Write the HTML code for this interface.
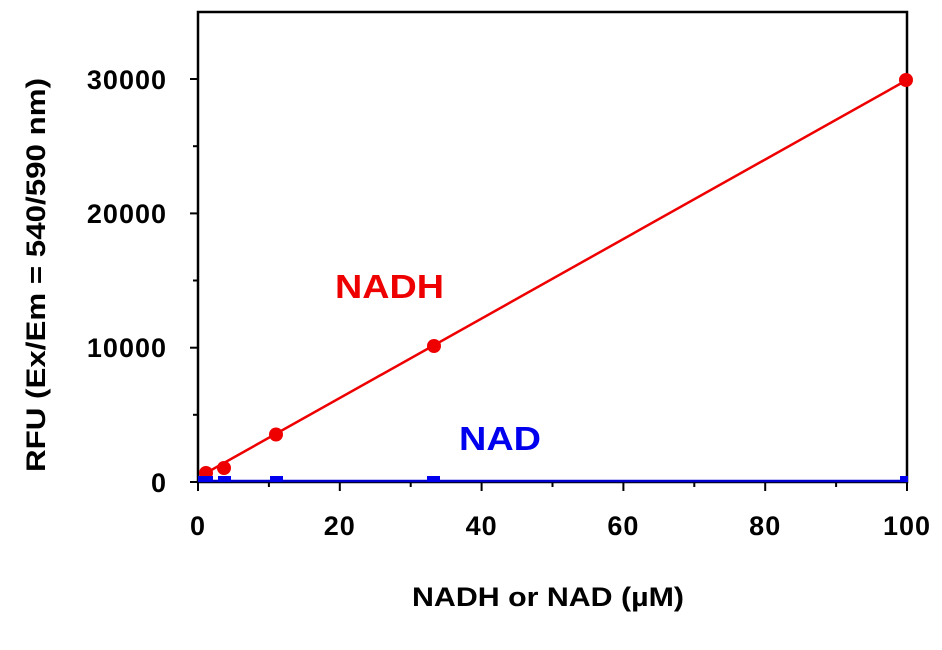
<!DOCTYPE html>
<html><head><style>body{margin:0;background:#fff}</style></head><body>
<svg width="942" height="645" xmlns="http://www.w3.org/2000/svg" font-family="Liberation Sans, sans-serif" font-weight="bold">
<rect x="0" y="0" width="942" height="645" fill="#fff"/>
<g stroke="#000" stroke-width="2.5" fill="none">
<rect x="198" y="12" width="709" height="470"/>
</g>
<g stroke="#000" stroke-width="2">
<line x1="190" y1="482" x2="198" y2="482"/><line x1="190" y1="347.7" x2="198" y2="347.7"/><line x1="190" y1="213.4" x2="198" y2="213.4"/><line x1="190" y1="79" x2="198" y2="79"/>
<line x1="193" y1="414.8" x2="198" y2="414.8"/><line x1="193" y1="280.5" x2="198" y2="280.5"/><line x1="193" y1="146.2" x2="198" y2="146.2"/>
<line x1="198" y1="482" x2="198" y2="491"/><line x1="339.8" y1="482" x2="339.8" y2="491"/><line x1="481.6" y1="482" x2="481.6" y2="491"/><line x1="623.4" y1="482" x2="623.4" y2="491"/><line x1="765.2" y1="482" x2="765.2" y2="491"/><line x1="907" y1="482" x2="907" y2="491"/>
<line x1="268.9" y1="482" x2="268.9" y2="487"/><line x1="410.7" y1="482" x2="410.7" y2="487"/><line x1="552.5" y1="482" x2="552.5" y2="487"/><line x1="694.3" y1="482" x2="694.3" y2="487"/><line x1="836.1" y1="482" x2="836.1" y2="487"/>
</g>
<g font-size="27" text-anchor="end" fill="#000" letter-spacing="1">
<text x="167" y="492">0</text><text x="167" y="357">10000</text><text x="167" y="223">20000</text><text x="167" y="89">30000</text>
</g>
<g font-size="27" text-anchor="middle" fill="#000">
<text x="198" y="535" letter-spacing="1">0</text><text x="339.8" y="535" letter-spacing="1">20</text><text x="481.6" y="535" letter-spacing="1">40</text><text x="623.4" y="535" letter-spacing="1">60</text><text x="765.2" y="535" letter-spacing="1">80</text><text x="907" y="535" letter-spacing="1">100</text>
<text x="548" y="606" textLength="272" lengthAdjust="spacingAndGlyphs">NADH or NAD (µM)</text>
<text transform="translate(45,275) rotate(-90)" textLength="394" lengthAdjust="spacingAndGlyphs">RFU (Ex/Em = 540/590 nm)</text>
</g>
<line x1="198" y1="481" x2="907" y2="481" stroke="#00c" stroke-width="2.5"/>
<line x1="206" y1="473" x2="907" y2="80" stroke="#e00" stroke-width="2.5"/>
<g fill="#e00">
<circle cx="206" cy="473" r="7"/><circle cx="224" cy="468" r="7"/><circle cx="276" cy="434.5" r="7"/><circle cx="434" cy="346" r="7"/><circle cx="906" cy="80" r="7"/>
</g>
<g fill="#00e">
<rect x="198" y="476" width="15" height="6"/><rect x="218" y="476" width="13" height="6"/><rect x="270" y="476" width="13" height="6"/><rect x="427" y="476" width="13" height="6"/><rect x="900" y="476" width="8" height="6"/>
</g>
<text x="389.5" y="298" font-size="33" fill="#e00" text-anchor="middle" textLength="109" lengthAdjust="spacingAndGlyphs">NADH</text>
<text x="500" y="450" font-size="33" fill="#00e" text-anchor="middle" textLength="82" lengthAdjust="spacingAndGlyphs">NAD</text>
</svg>
</body></html>
